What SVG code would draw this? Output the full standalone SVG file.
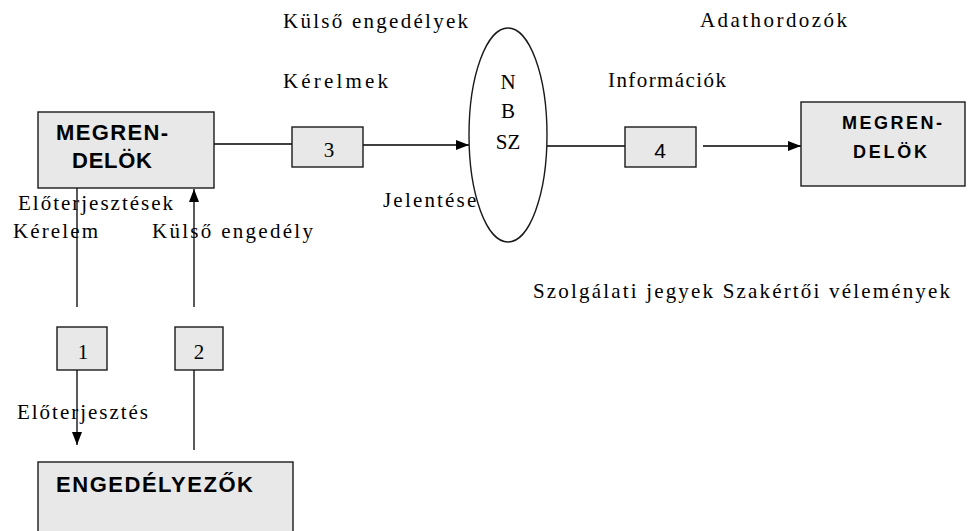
<svg xmlns="http://www.w3.org/2000/svg" width="970" height="531" viewBox="0 0 970 531">
<style>
.box{fill:#e8e8e8;stroke:#1a1a1a;stroke-width:1.4}
.ln{fill:none;stroke:#000;stroke-width:1.3}
.lbl{font-family:"Liberation Serif",serif;font-size:21px;fill:#000}
.hd{font-family:"Liberation Sans",Arial,sans-serif;font-weight:bold;fill:#000}
.num{font-family:"Liberation Serif",serif;font-size:21px;fill:#000;text-anchor:middle}
</style>
<defs>
<marker id="arr" markerUnits="userSpaceOnUse" markerWidth="14" markerHeight="10" refX="13" refY="5" orient="auto">
<path d="M0,0 L13,5 L0,10 z" fill="#000"/>
</marker>
</defs>
<rect width="970" height="531" fill="#fff"/>

<g id="labels">
<text class="lbl" x="283" y="28" textLength="185" lengthAdjust="spacing">Külső engedélyek</text>
<text class="lbl" x="700" y="27" textLength="147" lengthAdjust="spacing">Adathordozók</text>
<text class="lbl" x="283" y="88" textLength="105" lengthAdjust="spacing">Kérelmek</text>
<text class="lbl" x="608" y="87" textLength="118" lengthAdjust="spacing">Információk</text>
<text class="lbl" x="383" y="207" textLength="106" lengthAdjust="spacing">Jelentések</text>
<text class="lbl" x="18" y="210" textLength="155" lengthAdjust="spacing">Előterjesztések</text>
<text class="lbl" x="13" y="238" textLength="85" lengthAdjust="spacing">Kérelem</text>
<text class="lbl" x="152" y="238" textLength="161" lengthAdjust="spacing">Külső engedély</text>
<text class="lbl" x="17" y="419" textLength="131" lengthAdjust="spacing">Előterjesztés</text>
<text class="lbl" x="533" y="298" textLength="417" lengthAdjust="spacing">Szolgálati jegyek Szakértői vélemények</text>
</g>

<g id="connectors">
<line class="ln" x1="214" y1="144" x2="292" y2="144"/>
<line class="ln" x1="363" y1="145" x2="469" y2="145" marker-end="url(#arr)"/>
<line class="ln" x1="547" y1="146" x2="625" y2="146"/>
<line class="ln" x1="703" y1="146" x2="801" y2="146" marker-end="url(#arr)"/>
<line class="ln" x1="77" y1="188" x2="77" y2="307"/>
<line class="ln" x1="77" y1="370" x2="77" y2="445" marker-end="url(#arr)"/>
<line class="ln" x1="194" y1="307" x2="194" y2="189" marker-end="url(#arr)"/>
<line class="ln" x1="194" y1="370" x2="194" y2="450"/>
</g>

<g id="megrendelok-left">
<rect class="box" x="38" y="112" width="176" height="76"/>
<text class="hd" x="56" y="140" font-size="22" textLength="112" lengthAdjust="spacing">MEGREN-</text>
<text class="hd" x="72" y="168" font-size="22" textLength="80" lengthAdjust="spacing">DELÖK</text>
</g>

<g id="nbsz">
<ellipse cx="508" cy="135" rx="39" ry="107" fill="#fff" stroke="#1a1a1a" stroke-width="1.4"/>
<text class="num" x="508" y="89" font-size="25">N</text>
<text class="num" x="508" y="118" font-size="25">B</text>
<text class="num" x="508" y="149" font-size="25">SZ</text>
</g>

<g id="megrendelok-right">
<rect class="box" x="801" y="102" width="164" height="84"/>
<text class="hd" x="842" y="129" font-size="18" textLength="100" lengthAdjust="spacing">MEGREN-</text>
<text class="hd" x="853" y="158" font-size="18" textLength="74" lengthAdjust="spacing">DELÖK</text>
</g>

<g id="engedelyezok">
<rect class="box" x="38" y="462" width="255" height="80"/>
<text class="hd" x="56" y="492" font-size="22" textLength="197" lengthAdjust="spacing">ENGEDÉLYEZŐK</text>
</g>

<g id="n3">
<rect class="box" x="292" y="127" width="71" height="40"/>
<text class="num" x="329" y="157">3</text>
</g>
<g id="n4">
<rect class="box" x="625" y="127" width="71" height="40"/>
<text class="num" x="660" y="158" style="font-family:'Liberation Sans',sans-serif">4</text>
</g>
<g id="n1">
<rect class="box" x="57" y="327" width="50" height="43"/>
<text class="num" x="83" y="359">1</text>
</g>
<g id="n2">
<rect class="box" x="175" y="327" width="48" height="43"/>
<text class="num" x="199" y="359">2</text>
</g>
</svg>
